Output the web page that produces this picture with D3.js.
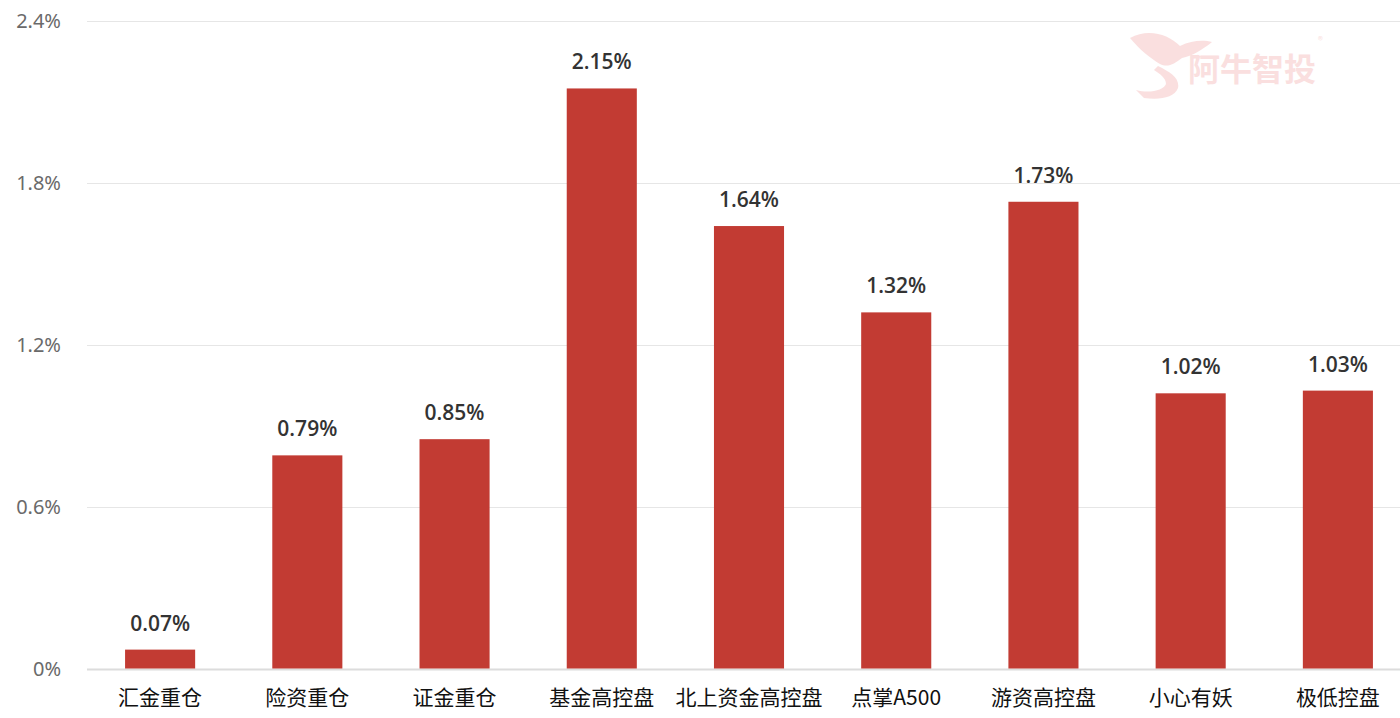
<!DOCTYPE html>
<html><head><meta charset="utf-8">
<script src="https://cdn.jsdelivr.net/npm/d3@7/dist/d3.min.js"></script>
<style>body{margin:0;background:#fff}svg{display:block}</style>
</head><body><svg id="c" width="1400" height="718"></svg>
<script>
const categories = ["汇金重仓","险资重仓","证金重仓","基金高控盘","北上资金高控盘","点掌A500","游资高控盘","小心有妖","极低控盘"];
const values = [0.07,0.79,0.85,2.15,1.64,1.32,1.73,1.02,1.03];
const yTicks = [0,0.6,1.2,1.8,2.4];
const yTickLabels = ["0%","0.6%","1.2%","1.8%","2.4%"];

const svg = d3.select("#c");
const cjk = "'Noto Sans CJK SC','Noto Sans',sans-serif";
const x = d3.scaleBand().domain(categories).range([86.5, 1411.5]).paddingInner(0.524).paddingOuter(0.262);
const y = d3.scaleLinear().domain([0,2.4]).range([668.5,21]);

// watermark
const wm = svg.append("g").attr("opacity",0.16).attr("fill","#e23c3c");
wm.append("path").attr("d","M1130,38 C1148,28 1168,34 1180,46 C1192,40 1204,40 1212,42 C1202,50 1192,56 1182,58 C1174,64 1168,68 1160,64 C1150,58 1140,50 1130,38 Z M1158,66 C1170,72 1180,78 1178,88 C1174,98 1160,100 1144,98 L1136,90 C1150,94 1164,90 1166,84 C1166,78 1160,74 1154,70 Z");
wm.append("text").attr("x",1188).attr("y",81).attr("font-family",cjk).attr("font-size",32).attr("font-weight","bold").text("阿牛智投");
wm.append("text").attr("x",1318).attr("y",44).attr("font-family",cjk).attr("font-size",10).text("®");

// grid
svg.append("g").selectAll("line").data(yTicks).join("line")
  .attr("x1",87).attr("x2",1400).attr("y1",d=>Math.round(y(d))+0.5).attr("y2",d=>Math.round(y(d))+0.5)
  .attr("stroke",d=>d===0?"#dcdcdc":"#e6e6e6").attr("stroke-width",d=>d===0?2:1);

// y labels
svg.append("g").selectAll("text").data(yTicks).join("text")
  .attr("x",61).attr("y",d=>y(d)).attr("dy","0.35em").attr("text-anchor","end")
  .attr("font-family","'Noto Sans',sans-serif").attr("font-size",20).attr("fill","#6a6a6a")
  .text((d,i)=>yTickLabels[i]);

// bars
svg.append("g").selectAll("rect").data(values).join("rect")
  .attr("x",(d,i)=>x(categories[i])).attr("width",x.bandwidth())
  .attr("y",d=>y(d)).attr("height",d=>y(0)-y(d)).attr("fill","#c23b33");

// value labels
svg.append("g").selectAll("text").data(values).join("text")
  .attr("x",(d,i)=>x(categories[i])+x.bandwidth()/2).attr("y",d=>y(d)-19)
  .attr("text-anchor","middle").attr("font-family","'Open Sans',sans-serif").attr("font-size",21).attr("font-weight",600).attr("fill","#333")
  .text(d=>d.toFixed(2)+"%");

// category labels
svg.append("g").selectAll("text").data(categories).join("text")
  .attr("x",d=>x(d)+x.bandwidth()/2).attr("y",705)
  .attr("text-anchor","middle").attr("font-family",cjk).attr("font-size",21).attr("fill","#111")
  .text(d=>d);
</script></body></html>
